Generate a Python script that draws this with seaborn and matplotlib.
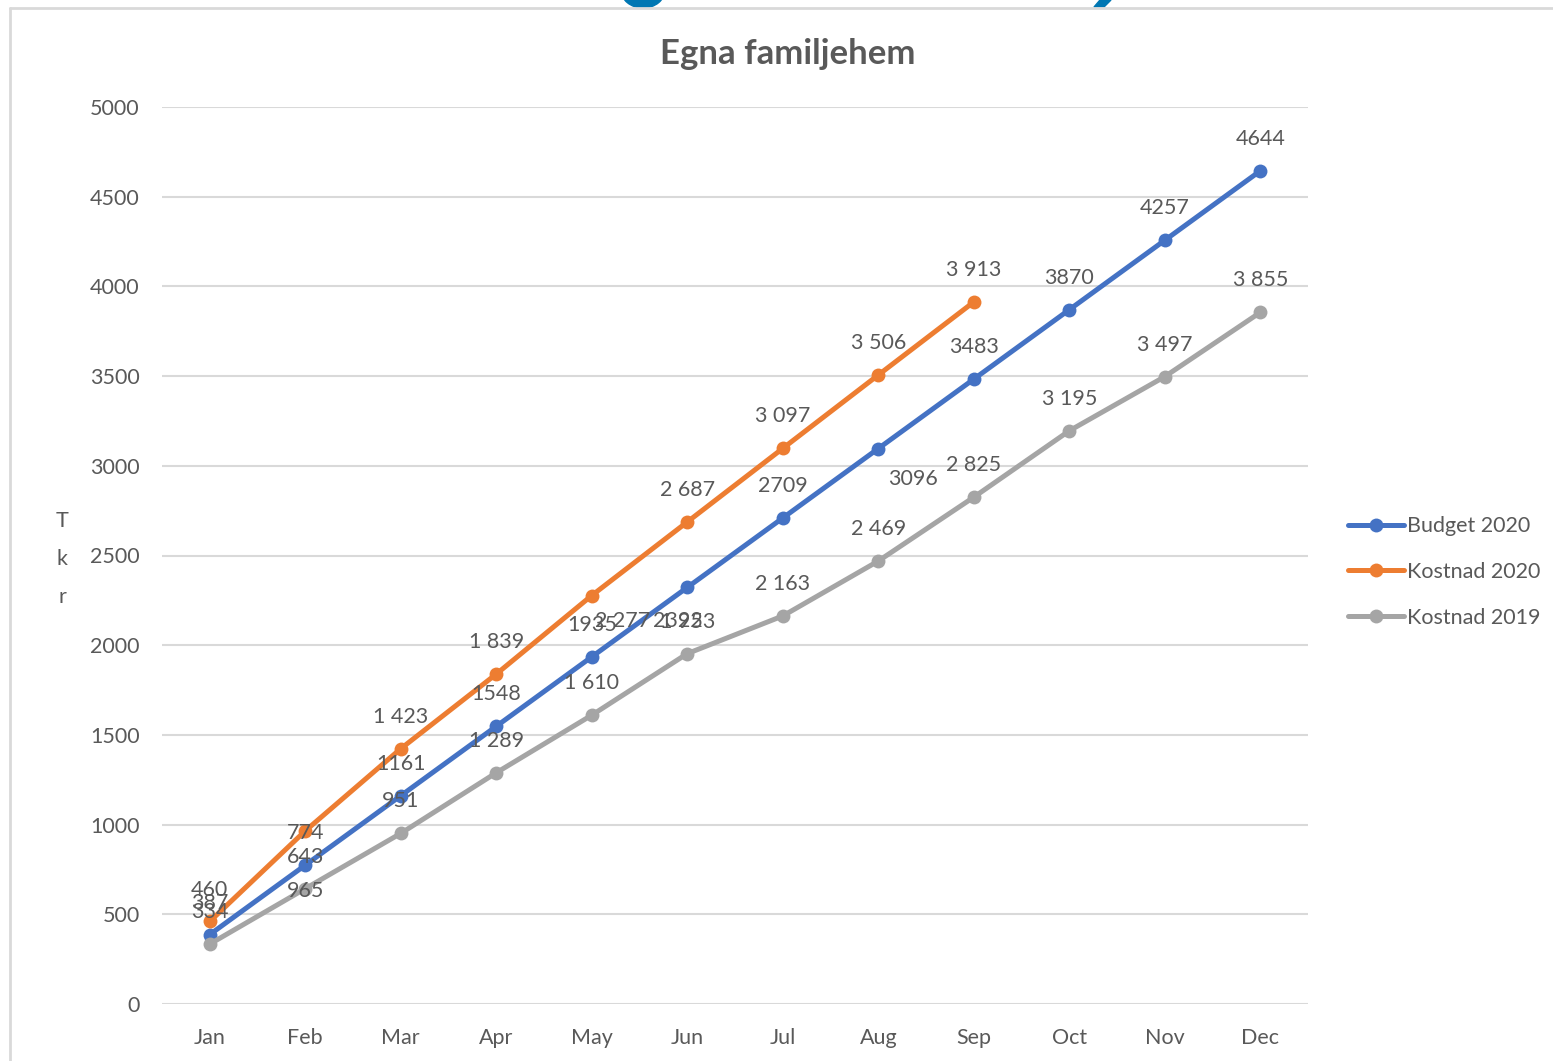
import seaborn as sns
import matplotlib.pyplot as plt
import pandas as pd
from matplotlib.lines import Line2D
from matplotlib.patches import Ellipse, Polygon

# Values (Tkr, cumulative)
months = ['Jan', 'Feb', 'Mar', 'Apr', 'May', 'Jun', 'Jul', 'Aug', 'Sep', 'Oct', 'Nov', 'Dec']
budget_2020 = [387, 774, 1161, 1548, 1935, 2322, 2709, 3096, 3483, 3870, 4257, 4644]
kostnad_2020 = [460, 965, 1423, 1839, 2277, 2687, 3097, 3506, 3913]
kostnad_2019 = [334, 643, 951, 1289, 1610, 1953, 2163, 2469, 2825, 3195, 3497, 3855]

series = ['Budget 2020', 'Kostnad 2020', 'Kostnad 2019']
colors = ['#4472C4', '#ED7D31', '#A5A5A5']

rows = []
for name, vals in zip(series, [budget_2020, kostnad_2020, kostnad_2019]):
    for m, v in zip(months, vals):
        rows.append({'month': m, 'value': v, 'serie': name})
df = pd.DataFrame(rows)

sns.set_style('white')
plt.rcParams['font.family'] = ['Lato', 'DejaVu Sans']
txt = '#595959'

fig = plt.figure(figsize=(15.53, 10.61), dpi=100)
ax = fig.add_axes([162 / 1553, 1 - 1004 / 1061, (1308 - 162) / 1553, (1004 - 107) / 1061])

sns.lineplot(data=df, x='month', y='value', hue='serie', palette=colors,
             marker='o', markersize=10, markeredgewidth=0, linewidth=3.6,
             sort=False, ax=ax, legend=True)

ax.set_ylim(0, 5000)
ax.set_xlim(-0.5, 11.5)
ax.set_yticks(range(0, 5001, 500))
ax.grid(axis='y', color='#D9D9D9', linewidth=1.5)
ax.set_axisbelow(True)
for s in ax.spines.values():
    s.set_visible(False)
ax.tick_params(axis='both', length=0, labelsize=15.5, labelcolor=txt)
ax.tick_params(axis='y', pad=16)
ax.tick_params(axis='x', pad=17)
ax.set_xlabel('')
ax.set_ylabel('')

# data labels (mostly above the points, a few moved like in the original)
def fmt_space(v):
    return f'{v:,}'.replace(',', ' ')

label_sets = [
    ([str(v) for v in budget_2020], budget_2020, {5: (-7, -24), 7: (25, -22)}),
    ([fmt_space(v) for v in kostnad_2020], kostnad_2020, {1: (0, -43), 4: (22, -18)}),
    ([fmt_space(v) for v in kostnad_2019], kostnad_2019, {}),
]
for labels, vals, moved in label_sets:
    for i, (lab, v) in enumerate(zip(labels, vals)):
        dx, dy = moved.get(i, (0, 23))
        ax.annotate(lab, (months[i], v), xytext=(dx, dy), textcoords='offset points',
                    ha='center', va='center', fontsize=15.5, color=txt)

# legend
ax.legend_.remove()
handles = [Line2D([0], [0], color=c, lw=3.6, marker='o', markersize=10, markeredgewidth=0)
           for c in colors]
fig.legend(handles, series, loc='center left', bbox_to_anchor=(1348 / 1553, 1 - 572 / 1061),
           frameon=False, fontsize=15.5, labelcolor=txt, handlelength=2.6,
           handletextpad=0.15, labelspacing=1.2, borderpad=0, borderaxespad=0)

fig.text(788 / 1553, 1 - 54 / 1061, 'Egna familjehem', ha='center', va='center',
         fontsize=25, fontweight='bold', color=txt)
fig.text(62 / 1553, 1 - 559 / 1061, 'T\nk\nr', ha='center', va='center',
         fontsize=15.5, color=txt, linespacing=2.1)

# chart border and the cut-off shapes above it
fig.add_artist(Line2D([10 / 1553, 1], [1 - 8 / 1061, 1 - 8 / 1061], color='#D9D9D9',
                      lw=2, transform=fig.transFigure))
fig.add_artist(Line2D([10 / 1553, 10 / 1553], [0, 1 - 8 / 1061], color='#D9D9D9',
                      lw=2, transform=fig.transFigure))
fig.add_artist(Ellipse((643 / 1553, 1 + 10 / 1061), 44 / 1553, 36 / 1061,
                       color='#0077B3', transform=fig.transFigure))
fig.add_artist(Polygon([(1094 / 1553, 1 - 7 / 1061), (1104 / 1553, 1 - 7 / 1061),
                        (1111 / 1553, 1), (1100 / 1553, 1)],
                       color='#0077B3', transform=fig.transFigure))

fig.savefig('out.png', dpi=100, facecolor='white')
